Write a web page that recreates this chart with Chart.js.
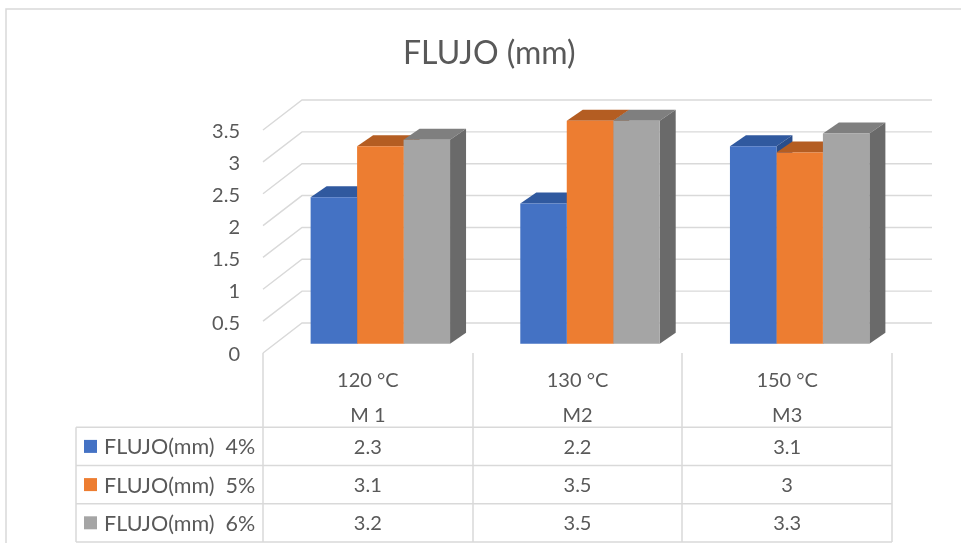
<!DOCTYPE html>
<html>
<head>
<meta charset="utf-8">
<script src="https://cdn.jsdelivr.net/npm/chart.js@4.4.1/dist/chart.umd.min.js"></script>
<style>
  html, body { margin: 0; padding: 0; background: #ffffff; }
  canvas { display: block; }
</style>
</head>
<body>
<canvas id="chart" width="961" height="543"></canvas>
<script>
// Categories, sample names and series values
const categories = ['120 °C', '130 °C', '150 °C'];
const samples = ['M 1', 'M2', 'M3'];
const seriesNames = ['FLUJO(mm)  4%', 'FLUJO(mm)  5%', 'FLUJO(mm)  6%'];
const flujo4 = [2.3, 2.2, 3.1];
const flujo5 = [3.1, 3.5, 3];
const flujo6 = [3.2, 3.5, 3.3];
const yTicks = [0, 0.5, 1, 1.5, 2, 2.5, 3, 3.5];

// Styling
const FONT = 'Lato, "Open Sans", sans-serif';
const TEXT = '#595959';
const GRID = '#D9D9D9';
const frontColors = ['#4472C4', '#ED7D31', '#A5A5A5'];
const topColors = ['#30599F', '#B45D22', '#7F7F7F'];
const sideColors = ['#2A4E8C', '#A4541E', '#6A6A6A'];

// Oblique depth offsets (px): wall depth, bar front face, bar thickness
const WALL = { dx: 39, dy: -30 };
const FACE = { dx: 12.5, dy: -9.3 };
const BAR = { dx: 16, dy: -11 };

function poly(ctx, pts, color) {
  ctx.beginPath();
  ctx.moveTo(pts[0][0], pts[0][1]);
  for (let k = 1; k < pts.length; k++) ctx.lineTo(pts[k][0], pts[k][1]);
  ctx.closePath();
  ctx.fillStyle = color;
  ctx.fill();
}

const box3d = {
  id: 'box3d',
  beforeDatasetsDraw(chart) {
    const { ctx, chartArea: a } = chart;
    const yScale = chart.scales.y;

    // side wall and back wall gridlines
    ctx.save();
    ctx.strokeStyle = GRID;
    ctx.lineWidth = 1.4;
    yTicks.forEach(v => {
      const py = yScale.getPixelForValue(v);
      ctx.beginPath();
      ctx.moveTo(a.left, py);
      ctx.lineTo(a.left + WALL.dx, py + WALL.dy);
      ctx.lineTo(a.right + WALL.dx + 1, py + WALL.dy);
      ctx.stroke();
    });
    ctx.restore();

    // top and right faces, painted left to right
    const metas = chart.getSortedVisibleDatasetMetas().slice().sort((p, q) => p.index - q.index);
    ctx.save();
    ctx.translate(FACE.dx, FACE.dy);
    for (let i = 0; i < categories.length; i++) {
      metas.forEach(m => {
        const el = m.data[i];
        const { x, y, base, width } = el.getProps(['x', 'y', 'base', 'width'], true);
        const l = x - width / 2, r = x + width / 2;
        poly(ctx, [[l, y], [r, y], [r + BAR.dx, y + BAR.dy], [l + BAR.dx, y + BAR.dy]], topColors[m.index]);
        poly(ctx, [[r, y], [r + BAR.dx, y + BAR.dy], [r + BAR.dx, base + BAR.dy], [r, base]], sideColors[m.index]);
      });
    }
    ctx.restore();

    // front faces are drawn by the bar controller in the shifted frame
    ctx.save();
    ctx.translate(FACE.dx, FACE.dy);
  },
  afterDatasetsDraw(chart) {
    const { ctx, chartArea: a } = chart;
    ctx.restore();

    const xScale = chart.scales.x;
    const step = (a.right - a.left) / categories.length;
    const gridTop = a.bottom + 74.3;
    const rowH = 38.2;
    const tableLeft = 76;
    const bottom = gridTop + rowH * 3;

    ctx.save();
    ctx.strokeStyle = GRID;
    ctx.lineWidth = 1.5;
    // column separators
    for (let c = 0; c <= categories.length; c++) {
      const px = Math.round(a.left + c * step);
      ctx.beginPath();
      ctx.moveTo(px, a.bottom);
      ctx.lineTo(px, bottom);
      ctx.stroke();
    }
    // row lines
    for (let r = 0; r <= 3; r++) {
      const py = gridTop + r * rowH;
      ctx.beginPath();
      ctx.moveTo(tableLeft, py);
      ctx.lineTo(a.right, py);
      ctx.stroke();
    }
    ctx.beginPath();
    ctx.moveTo(tableLeft, gridTop);
    ctx.lineTo(tableLeft, bottom);
    ctx.stroke();

    // header text
    ctx.fillStyle = TEXT;
    ctx.font = '20px ' + FONT;
    ctx.textAlign = 'center';
    ctx.textBaseline = 'middle';
    categories.forEach((cat, i) => {
      const cx = xScale.getPixelForValue(i);
      ctx.fillText(cat, cx, a.bottom + 28);
      ctx.fillText(samples[i], cx, a.bottom + 63);
    });

    // series rows
    const series = [flujo4, flujo5, flujo6];
    series.forEach((vals, r) => {
      const cy = gridTop + rowH * (r + 0.5);
      ctx.fillStyle = frontColors[r];
      ctx.fillRect(84, cy - 6.5, 13, 13);
      ctx.fillStyle = TEXT;
      ctx.textAlign = 'left';
      ctx.font = '21.5px ' + FONT;
      ctx.fillText(seriesNames[r], 104, cy + 1);
      ctx.textAlign = 'center';
      ctx.font = '20px ' + FONT;
      vals.forEach((v, i) => {
        ctx.fillText(String(v), xScale.getPixelForValue(i), cy + 1);
      });
    });

    // chart frame
    ctx.strokeStyle = GRID;
    ctx.lineWidth = 1.5;
    ctx.strokeRect(6, 9, 1000, 600);
    ctx.restore();
  }
};

const PAD_LEFT = 86.6;

new Chart(document.getElementById('chart'), {
  type: 'bar',
  data: {
    labels: categories,
    datasets: [flujo4, flujo5, flujo6].map((vals, d) => ({
      label: seriesNames[d],
      data: vals,
      backgroundColor: frontColors[d],
      borderWidth: 0,
      categoryPercentage: 0.665,
      barPercentage: 1,
      clip: false
    }))
  },
  options: {
    responsive: false,
    devicePixelRatio: 1,
    animation: false,
    events: [],
    layout: { padding: { left: PAD_LEFT, right: 69, top: 0, bottom: 190 } },
    scales: {
      x: { display: false },
      y: {
        min: 0,
        max: 3.5,
        afterFit(scale) { scale.width = 263 - PAD_LEFT; },
        afterBuildTicks(scale) { scale.ticks = yTicks.map(v => ({ value: v })); },
        grid: { display: false, drawTicks: false },
        border: { display: false },
        ticks: {
          padding: 23,
          labelOffset: 2,
          color: TEXT,
          font: { family: FONT, size: 20 },
          callback: v => String(v)
        }
      }
    },
    plugins: {
      legend: { display: false },
      tooltip: { enabled: false },
      title: {
        display: true,
        text: 'FLUJO (mm)',
        color: TEXT,
        font: { family: FONT, size: 32, weight: 'normal', lineHeight: 1.2 },
        padding: { top: 34, bottom: 57.6 }
      }
    }
  },
  plugins: [box3d]
});
</script>
</body>
</html>
